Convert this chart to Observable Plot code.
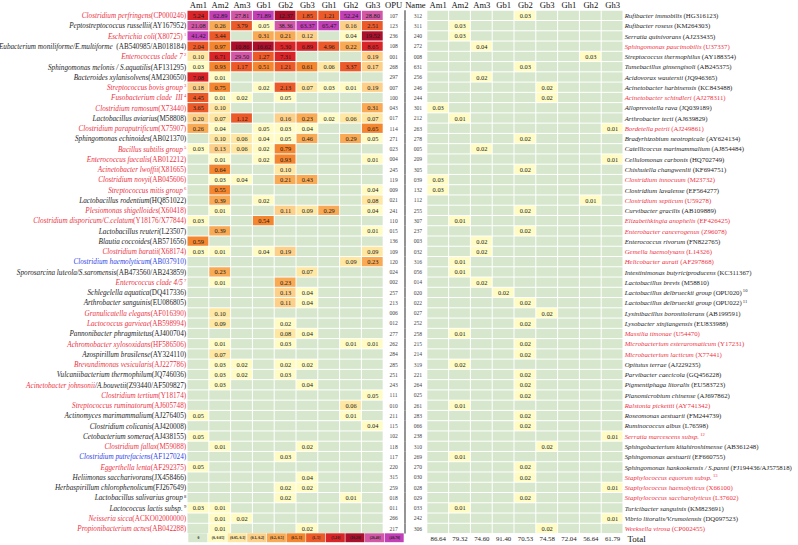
<!DOCTYPE html>
<html><head><meta charset="utf-8">
<script src="https://cdn.jsdelivr.net/npm/d3@7"></script>
<script src="https://cdn.jsdelivr.net/npm/@observablehq/plot@0.6"></script>
<style>
body{margin:0;background:#fff}
#wrap{position:relative;width:798px;height:545px}
#legend{position:absolute;left:188px;top:533px}
</style>
</head><body><div id="wrap"></div>
<script>
// ---------------- DATA ----------------
const groups = ["Am1","Am2","Am3","Gb1","Gb2","Gb3","Gh1","Gh2","Gh3"];
const legendLabels = ["0","(0, 0.05]","(0.05, 0.1]","(0.1, 0.2]","(0.2, 0.5]","(0.5, 1]","(1, 5]","(5,10]","(10,20]","(20,40]","(40,70]"];
const legendUpper = [0, 0.05, 0.1, 0.2, 0.5, 1, 5, 10, 20, 40, 70];
const legendColors = ["#d7e7ce","#fefcc4","#fde7a2","#fcd088","#f9aa55","#f3862f","#ec5a2a","#d92428","#ab0f2b","#d257a6","#c23fb8"];

// [species, extra (black italic), accession, superscript, colour: r=red, b=blue, k=black]
const leftNames = [
["Clostridium perfringens","","(CP000246)","","r"],
["Peptostreptococcus russellii","","(AY167952)","","k"],
["Escherichia coli","","(X80725)","1","r"],
["Eubacterium moniliforme/E.multiforme","","  (AB540985/AB018184)","","k"],
["Enterococcus clade 7","","","2","r"],
["Sphingomonas melonis / S.aquatilis","","(AF131295)","","k"],
["Bacteroides xylanisolvens","","(AM230650)","","k"],
["Streptococcus bovis group","","","3","r"],
["Fusobacterium clade  III","","","4","r"],
["Clostridium ramosum","","(X73440)","","r"],
["Lactobacillus aviarius","","(M58808)","","k"],
["Clostridium paraputrificum","","(X75907)","","r"],
["Sphingomonas echinoides","","(AB021370)","","k"],
["Bacillus subtilis group","","","5","r"],
["Enterococcus faecalis","","(AB012212)","","r"],
["Acinetobacter lwoffii","","(X81665)","","r"],
["Clostridium novyi","","(AB045606)","","r"],
["Streptococcus mitis group","","","6","r"],
["Lactobacillus rodentium","","(HQ851022)","","k"],
["Plesiomonas shigelloides","","(X60418)","","r"],
["Clostridium disporicum/C.celatum","","(Y18176/X77844)","","r"],
["Lactobacillus reuteri","","(L23507)","","k"],
["Blautia coccoides","","(AB571656)","","k"],
["Clostridium baratii","","(X68174)","","r"],
["Clostridium haemolyticum","","(AB037910)","","b"],
["Sporosarcina luteola/S.saromensis","","(AB473560/AB243859)","","k"],
["Enterococcus clade 4/5","","","7","r"],
["Schlegelella aquatica","","(DQ417336)","","k"],
["Arthrobacter sanguinis","","(EU086805)","","k"],
["Granulicatella elegans","","(AF016390)","","r"],
["Lactococcus garvieae","","(AB598994)","","r"],
["Pannonibacter phragmitetus","","(AJ400704)","","k"],
["Achromobacter xylosoxidans","","(HF586506)","","r"],
["Azospirillum brasilense","","(AY324110)","","k"],
["Brevundimonas vesicularis","","(AJ227786)","","r"],
["Vulcaniibacterium thermophilum","","(JQ746036)","","k"],
["Acinetobacter johnsonii","/A.bouvetii","(Z93440/AF509827)","","r"],
["Clostridium tertium","","(Y18174)","","r"],
["Streptococcus ruminatorum","","(AJ605748)","","r"],
["Actinomyces marimammalium","","(AJ276405)","","k"],
["Clostridium colicanis","","(AJ420008)","","k"],
["Cetobacterium somerae","","(AJ438155)","","k"],
["Clostridium fallax","","(M59088)","","r"],
["Clostridium putrefaciens","","(AF127024)","","b"],
["Eggerthella lenta","","(AF292375)","","r"],
["Heliimonas saccharivorans","","(JX458466)","","k"],
["Herbaspirillum chlorophenolicum","","(FJ267649)","","k"],
["Lactobacillus salivarius group","","","8","k"],
["Lactococcus lactis subsp.","","","9","k"],
["Neisseria sicca","","(ACKO02000000)","","r"],
["Propionibacterium acnes","","(AB042288)","","r"]
];
const leftOPU = ["107","123","236","108","001","268","297","007","100","043","017","114","271","023","004","245","119","009","021","241","110","015","136","109","120","024","002","257","213","006","012","277","262","284","285","251","243","111","010","211","115","102","118","117","220","315","259","018","011","266","217"];
const _ = null;
const leftValues = [
[5.24,62.89,27.81,71.89,12.37,1.85,1.21,52.24,28.80],
[21.08,0.26,3.79,0.05,38.36,63.37,65.47,0.16,2.51],
[41.42,3.44,_,0.31,0.21,0.12,_,0.04,19.52],
[2.04,0.97,10.86,16.62,5.30,6.89,4.96,0.22,8.65],
[0.10,6.71,29.50,1.27,7.31,_,_,_,0.19],
[0.03,0.93,1.17,0.51,1.21,0.61,0.06,3.37,0.17],
[7.08,0.01,_,_,_,_,_,_,_],
[0.18,0.75,_,0.02,2.13,0.07,0.03,0.01,0.19],
[4.45,0.01,0.02,_,0.05,_,_,_,_],
[3.65,0.10,_,_,_,_,_,_,0.31],
[0.20,0.07,1.12,_,0.16,0.23,0.02,0.06,0.07],
[0.26,0.04,_,0.05,0.03,0.04,_,_,0.65],
[_,0.10,0.06,0.04,0.05,0.46,_,0.29,0.05],
[0.03,0.13,0.06,0.02,0.79,_,_,_,_],
[_,0.01,_,0.02,0.93,_,_,_,0.01],
[_,0.64,_,_,0.10,_,_,_,_],
[_,0.03,0.04,_,0.21,0.43,_,_,_],
[_,0.55,_,_,_,_,_,_,0.04],
[_,0.39,_,0.02,_,_,_,_,0.08],
[_,0.01,_,_,0.11,0.09,0.29,_,0.04],
[0.03,_,_,0.54,_,_,_,_,_],
[_,0.39,_,_,_,_,_,_,0.01],
[0.59,_,_,_,_,_,_,_,_],
[0.03,0.01,_,0.04,0.19,_,_,_,0.09],
[_,_,_,_,_,_,_,0.09,0.23],
[_,0.23,_,_,_,0.07,_,_,_],
[_,0.01,_,_,0.23,_,_,_,_],
[_,_,_,_,0.13,0.04,_,_,_],
[_,_,_,_,0.11,0.04,_,_,_],
[_,0.10,_,_,_,_,_,_,_],
[_,0.09,_,_,0.02,_,_,_,_],
[_,_,_,_,0.08,0.04,_,_,_],
[_,0.01,_,_,0.03,_,_,0.01,0.01],
[_,0.07,_,_,_,_,_,_,_],
[_,0.03,0.02,_,0.02,0.02,_,_,_],
[_,0.03,0.02,_,0.03,_,_,_,_],
[_,0.03,_,_,_,0.04,_,_,_],
[_,_,_,_,_,_,_,_,0.05],
[_,_,_,_,_,_,_,0.06,_],
[0.05,_,_,_,_,_,_,0.01,_],
[_,_,_,_,_,_,_,_,0.04],
[0.05,_,_,_,_,_,_,_,_],
[_,0.01,_,_,_,0.02,_,_,_],
[_,_,_,_,0.03,_,_,_,_],
[0.05,_,_,_,_,_,_,_,_],
[_,_,_,_,_,0.04,_,_,_],
[_,_,_,_,0.02,0.02,_,_,_],
[_,_,_,_,0.02,_,_,0.01,_],
[0.03,0.01,_,_,_,_,_,_,_],
[_,0.01,0.02,_,_,_,_,_,_],
[_,0.01,_,_,_,0.02,_,_,_]
];

const rightNames = [
["Rufibacter immobilis","","(HG316123)","","k"],
["Rufibacter roseus","","(KM264303)","","k"],
["Serratia quinivorans","","(AJ233435)","","k"],
["Sphingomonas paucimobilis","","(U37337)","","r"],
["Streptococcus thermophilus","","(AY188354)","","k"],
["Tumebacillus ginsengisoli","","(AB245375)","","k"],
["Acidovorax wautersii","","(JQ946365)","","k"],
["Acinetobacter harbinensis","","(KC843488)","","k"],
["Acinetobacter schindleri","","(AJ278311)","","r"],
["Alloprevotella rava","","(JQ039189)","","k"],
["Arthrobacter tecti","","(AJ639829)","","k"],
["Bordetella petrii","","(AJ249861)","","r"],
["Bradyrhizobium neotropicale","","(AY624134)","","k"],
["Catellicoccus marimammalium","","(AJ854484)","","k"],
["Cellulomonas carbonis","","(HQ702749)","","k"],
["Chishuiella changwenlii","","(KF694751)","","k"],
["Clostridium innocuum","","(M23732)","","r"],
["Clostridium lavalense","","(EF564277)","","k"],
["Clostridium septicum","","(U59278)","","r"],
["Curvibacter gracilis","","(AB109889)","","k"],
["Elizabethkingia anophelis","","(EF426425)","","r"],
["Enterobacter cancerogenus","","(Z96078)","","r"],
["Enterococcus rivorum","","(FN822765)","","k"],
["Gemella haemolysans","","(L14326)","","r"],
["Helicobacter aurati","","(AF297868)","","r"],
["Intestinimonas butyriciproducens","","(KC311367)","","k"],
["Lactobacillus brevis","","(M58810)","","k"],
["Lactobacillus delbrueckii group","","(OPU020)","10","k"],
["Lactobacillus delbrueckii group","","(OPU022)","11","k"],
["Lysinibacillus boronitolerans","","(AB199591)","","k"],
["Lysobacter xinjiangensis","","(EU833988)","","k"],
["Massilia timonae","","(U54470)","","r"],
["Microbacterium esteraromaticum","","(Y17231)","","r"],
["Microbacterium lacticum","","(X77441)","","r"],
["Opitutus terrae","","(AJ229235)","","k"],
["Parvibacter caecicola","","(GQ456228)","","k"],
["Pigmentiphaga litoralis","","(EU583723)","","k"],
["Planomicrobium chinense","","(AJ697862)","","k"],
["Ralstonia pickettii","","(AY741342)","","r"],
["Roseomonas aestuarii","","(FM244739)","","k"],
["Ruminococcus albus","","(L76598)","","k"],
["Serratia marcescens subsp.","","","12","r"],
["Sphingobacterium kitahiroshimense","","(AB361248)","","k"],
["Sphingomonas aestuarii","","(EF660755)","","k"],
["Sphingomonas hankookensis / S.panni","","(FJ194436/AJ575818)","","k"],
["Staphylococcus equorum subsp.","","","13","r"],
["Staphylococcus haemolyticus","","(X66100)","","r"],
["Staphylococcus saccharolyticus","","(L37602)","","r"],
["Turicibacter sanguinis","","(KM823691)","","k"],
["Vibrio litoralis/V.rumoiensis","","(DQ097523)","","k"],
["Weeksella virosa","","(CP002455)","","r"]
];
const rightOPU = ["312","311","240","272","008","631","256","246","244","301","212","263","278","005","209","305","039","132","112","255","307","237","003","032","316","056","014","020","022","027","252","258","215","214","319","221","264","025","261","283","066","238","310","269","270","030","028","029","033","242","306"];
const rightCol = ["Gb2","Am2","Am2","Am3","Gh2","Gb2","Am3","Gb3","Gb3","Am1","Am2","Gh3","Gb2","Am3","Gh3","Gb2","Am1","Am1","Gh2","Gb2","Am2","Gb2","Am3","Am3","Am2","Am2","Am3","Gb1","Gb2","Gb3","Gb2","Am2","Gb2","Gb2","Am2","Gb2","Gb2","Gb2","Am2","Gb2","Gb2","Gh3","Gb3","Am2","Gb2","Gb2","Gh3","Gb2","Am2","Gh3","Gb3"];
const rightVal = [0.03,0.03,0.03,0.04,0.03,0.03,0.02,0.02,0.02,0.03,0.01,0.01,0.02,0.02,0.01,0.02,0.03,0.03,0.01,0.02,0.01,0.02,0.02,0.02,0.01,0.01,0.02,0.02,0.02,0.02,0.02,0.01,0.02,0.02,0.02,0.02,0.02,0.02,0.01,0.02,0.02,0.01,0.02,0.01,0.02,0.02,0.01,0.02,0.01,0.01,0.02];
const totals = [86.64,79.32,74.60,91.40,70.53,74.58,72.04,56.64,61.79];

// ---------------- BUILD ----------------
const nameColors = {r:"#ec3344", b:"#2f3fe8", k:"#1e1e1e"};
const binOf = v => {
  const k = legendUpper.findIndex(u => v <= u + 1e-9);
  return legendLabels[k < 0 ? legendLabels.length - 1 : k];
};
const fmt = d3.format(".2f");
const xDomain = [...groups.map(g=>"L"+g), "opuL", "opuR", ...groups.map(g=>"R"+g)];

const cells = [];
leftValues.forEach((row,i)=>row.forEach((v,j)=>cells.push({x:"L"+groups[j], y:i, v: v ?? 0})));
rightOPU.forEach((_o,i)=>groups.forEach(g=>cells.push({x:"R"+g, y:i, v: rightCol[i]===g ? rightVal[i] : 0})));

const keyOf = n => n[0]+n[1]+n[2]+(n[3] ? "^"+n[3] : "");
const nameMap = new Map();
const leftRows = leftNames.map((n,i)=>{nameMap.set(keyOf(n), n); return {i, key:keyOf(n), opu:leftOPU[i]};});
const rightDisp = rightNames.map(n => [n[0], n[1], n[2] ? " " + n[2] : "", n[3], n[4]]);
const rightRows = rightDisp.map((n,i)=>{nameMap.set(keyOf(n), n); return {i, key:keyOf(n), opu:rightOPU[i]};});

const bw = (623 - 187) / xDomain.length;
const colorScale = {type:"ordinal", domain: legendLabels, range: legendColors};

const chart = Plot.plot({
  width: 798, height: 545,
  marginLeft: 187, marginRight: 175, marginTop: 0, marginBottom: 1.2,
  x: {type:"band", domain: xDomain, padding: 0, round: false, axis: null},
  y: {type:"band", domain: d3.range(-1, 52), padding: 0, round: false, axis: null},
  color: colorScale,
  style: {fontFamily: "'Liberation Serif', 'DejaVu Serif', serif", background: "white", overflow: "visible"},
  marks: [
    Plot.cell(cells, {x:"x", y:"y", fill: d=>binOf(d.v), inset: 0.5}),
    Plot.text(cells.filter(d=>d.v>0), {x:"x", y:"y", text: d=>fmt(d.v), fontSize: 6.4, fill:"#1a1a1a"}),
    // separator
    Plot.cell(d3.range(0, 51), {x: ()=>"opuR", y: d=>d, fill: "#7a7a7a", insetLeft: -0.8, insetRight: bw - 0.8}),
    // headers
    Plot.text(groups, {x: g=>"L"+g, y: ()=>-1, text: g=>g, fontSize: 8.6, fill:"#111"}),
    Plot.text(groups, {x: g=>"R"+g, y: ()=>-1, text: g=>g, fontSize: 8.6, fill:"#111"}),
    Plot.text([{x:"opuL", t:"OPU"},{x:"opuR", t:"Name"}], {x:"x", y: ()=>-1, text:"t", fontSize: 8.6, fill:"#111", dx: -1}),
    // OPU numbers
    Plot.text(leftRows, {x: ()=>"opuL", y:"i", text:"opu", fontSize: 5.6, fill:"#444", dx: -1}),
    Plot.text(rightRows, {x: ()=>"opuR", y:"i", text:"opu", fontSize: 5.6, fill:"#444", dx: 1.5}),
    // names
    Plot.text(leftRows, {x: ()=>"LAm1", y:"i", text:"key", textAnchor:"end", dx: -bw/2 - 1.3, fontSize: 7.2}),
    Plot.text(rightRows, {x: ()=>"RGh3", y:"i", text:"key", textAnchor:"start", dx: bw/2 + 1.2, fontSize: 6.8}),
    // totals
    Plot.text(totals, {x: (d,i)=>"R"+groups[i], y: ()=>51, text: d=>fmt(d), fontSize: 6.8, fill:"#1a1a1a"}),
    Plot.text(["Total"], {x: ()=>"RGh3", y: ()=>51, text: d=>d, textAnchor:"start", dx: bw/2 + 4, fontSize: 9, fill:"#111"})
  ]
});

// rich-text names: italic species, upright accession, superscript notes
d3.select(chart).selectAll("text").each(function(){
  const n = nameMap.get(this.textContent);
  if (!n) return;
  const t = d3.select(this).text(null);
  const col = nameColors[n[4]];
  t.append("tspan").attr("font-style","italic").attr("fill", col).text(n[0]);
  if (n[1]) t.append("tspan").attr("font-style","italic").attr("fill", nameColors.k).text(n[1]);
  if (n[2]) t.append("tspan").attr("fill", n[1] ? nameColors.k : col).text(n[2]);
  if (n[3]) t.append("tspan").attr("fill", col).attr("font-size", 4.6).attr("dy", -2.8).text(" " + n[3]);
});

const wrap = document.getElementById("wrap");
wrap.appendChild(chart);

// legend strip
const legend = Plot.plot({
  width: 216, height: 9.5, margin: 0,
  x: {type:"band", domain: legendLabels, padding: 0, round: false, axis: null},
  color: colorScale,
  style: {fontFamily: "'Liberation Serif', serif", background: "transparent"},
  marks: [
    Plot.cell(legendLabels, {x: d=>d, fill: d=>d, inset: 0.3}),
    Plot.text(legendLabels, {x: d=>d, text: d=>d, fontSize: 3.7, fontWeight: "bold", fill:"#222"})
  ]
});
const ld = document.createElement("div");
ld.id = "legend";
ld.appendChild(legend);
wrap.appendChild(ld);
</script></body></html>
